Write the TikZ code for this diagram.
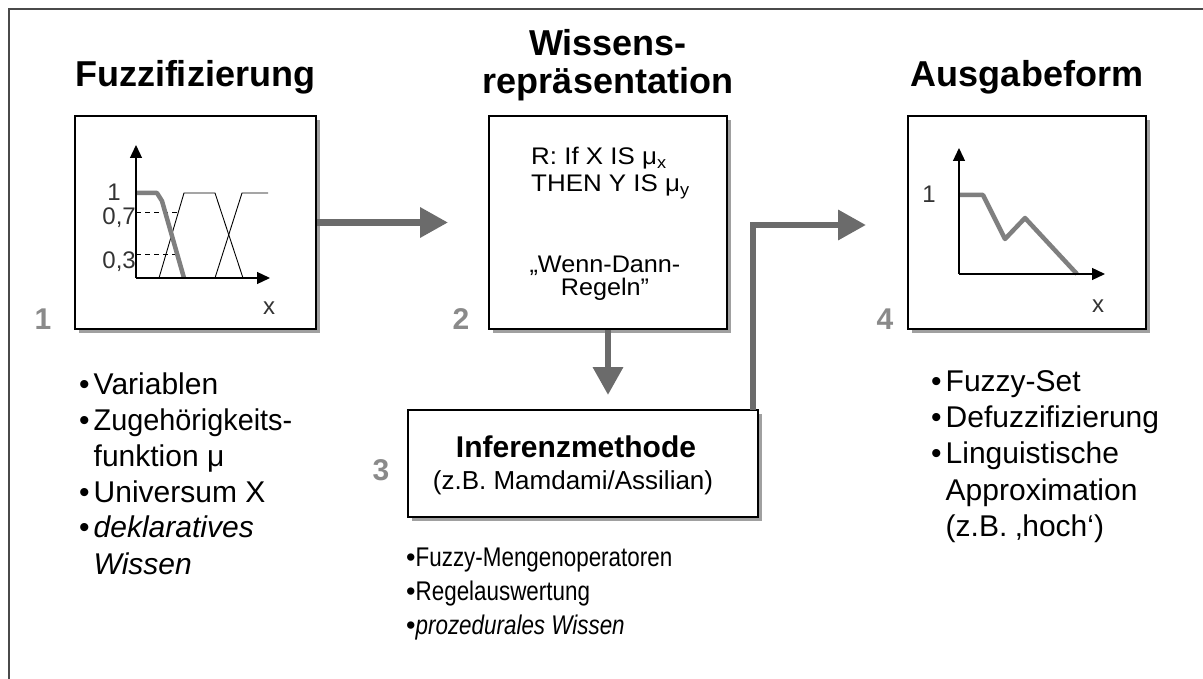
\documentclass[tikz,border=0pt]{standalone}
\usepackage{fontspec}
\usepackage{graphicx}
\setmainfont{Liberation Sans}
\usetikzlibrary{arrows.meta,shadows}
\definecolor{arrowgray}{HTML}{6B6B6B}
\definecolor{numgray}{HTML}{8A8A8A}
\definecolor{curvegray}{HTML}{7F7F7F}
\definecolor{shadowgray}{HTML}{A0A0A0}
\definecolor{framegray}{HTML}{4A4A4A}
\newcommand{\fsz}[2]{\fontsize{#1}{#2}\selectfont}
\newcommand{\wide}[1]{\scalebox{1.08}[1]{#1}}
\newcommand{\wider}[1]{\scalebox{1.05}[1]{#1}}
\newcommand{\narrow}[1]{\scalebox{0.83}[1]{#1}}
\begin{document}
\begin{tikzpicture}[x=1pt,y=-1pt,
  panel/.style={draw=black,line width=1.6pt,fill=white,inner sep=0pt,
     drop shadow={shadow xshift=4pt,shadow yshift=-4pt,opacity=1,fill=shadowgray}},
  flow/.style={draw=arrowgray,line width=6.5pt,-{Triangle[length=28pt,width=29pt]}},
  axis/.style={line width=1.3pt,-{Triangle[length=13pt,width=12pt]}},
  member/.style={line width=0.9pt},
  result/.style={line width=4.5pt,draw=curvegray,line join=round},
  guide/.style={line width=0.9pt,dash pattern=on 5pt off 4pt},
  title/.style={font=\bfseries\fsz{36}{37},anchor=base,inner sep=0pt},
  num/.style={font=\bfseries\fsz{30}{30},text=numgray,anchor=base,inner sep=0pt},
  lbl/.style={font=\fsz{24}{24},text=black!80,inner sep=0pt},
  listing/.style={anchor=base west,inner sep=0pt},
]
\useasboundingbox (0,0) rectangle (1203,679);
\fill[white] (0,0) rectangle (1203,679);
\draw[line width=2pt,framegray] (9,700) -- (9,9) -- (1220,9);

% titles
\node[title] (t1) at (195,87) {Fuzzifizierung};
\node[title] (t2a) at (608,56) {Wissens-};
\node[title] (t2b) at (608,94) {repräsentation};
\node[title] (t4) at (1027,87) {Ausgabeform};

% panels
\node[panel,minimum width=241pt,minimum height=213pt] (b1) at (195.5,222.5) {};
\node[panel,minimum width=238pt,minimum height=213pt] (b2) at (608,222.5) {};
\node[panel,minimum width=238pt,minimum height=213pt] (b4) at (1027,222.5) {};
\node[panel,minimum width=350pt,minimum height=107pt] (inf) at (583,463.5) {};

% numbers
\node[num] (n1) at (43,330) {1};
\node[num] (n2) at (461,330) {2};
\node[num] (n3) at (381,480) {3};
\node[num] (n4) at (885,330) {4};

% chart 1
\coordinate (o1) at (136,278);
\coordinate (y1) at (136,145);
\coordinate (x1) at (270,278);
\draw[guide] (136,212) -- (180,212);
\draw[guide] (136,254) -- (177,254);
\draw[member] (159,278) -- (184,193) -- (215,193) -- (243,278);
\draw[member] (215,278) -- (242,193) -- (268,193);
\draw[result] (136,193) -- (157,193) -- (162,201) -- (184,278);
\draw[axis] (o1) -- (y1);
\draw[axis] (o1) -- (x1);
\node[lbl,anchor=east] (l1a) at (121,192) {1};
\node[lbl,anchor=east] (l1b) at (136,218) {0,7};
\node[lbl,anchor=east] (l1c) at (136,262) {0,3};
\node[lbl] (l1x) at (269,308) {x};

% chart 4
\coordinate (o4) at (959,274);
\coordinate (y4) at (959,148);
\coordinate (x4) at (1105,274);
\draw[result] (959,195) -- (983,195) -- (1005,239) -- (1025,218) -- (1077,274);
\draw[axis] (o4) -- (y4);
\draw[axis] (o4) -- (x4);
\node[lbl] (l4a) at (929,194) {1};
\node[lbl] (l4x) at (1098,306) {x};

% panel 2 text (base = last line)
\node[listing,align=left,font=\fsz{24}{27}] (rule) at (531,192)
  {\wide{R: If X IS μ\textsubscript{x}}\\\wide{THEN Y IS μ\textsubscript{y}}};
\node[anchor=base,inner sep=0pt,align=center,font=\fsz{24}{23}] (wd) at (605,296)
  {\wider{„Wenn-Dann-}\\\wider{Regeln"}};

% inference text
\node[anchor=base,inner sep=0pt,font=\bfseries\fsz{30}{30}] (inft) at (576,457) {Inferenzmethode};
\node[anchor=base,inner sep=0pt,font=\fsz{26}{26}] (infs) at (573,489) {(z.B. Mamdami/Assilian)};

% connectors
\coordinate (a1tip) at (448,222.5);
\coordinate (a2tip) at (608,395);
\coordinate (a3start) at (753,410);
\coordinate (a3tip) at (866,225);
\draw[flow] (b1.east) -- (a1tip);
\draw[flow] (b2.south) -- (a2tip);
\draw[flow] (a3start) |- (a3tip);

% lists
\node[listing,font=\fsz{30}{36}] (listL) at (79,394)
  {\begin{tabular}[t]{@{}l@{\hspace{4pt}}l@{}}
   •&Variablen\\
   •&\scalebox{0.96}[1]{Zugehörigkeits-}\\
    &funktion μ\\
   •&Universum X\\
   •&\textit{deklaratives}\\
    &\textit{Wissen}
   \end{tabular}};
\node[listing,font=\fsz{30}{36.5}] (listR) at (931,391)
  {\begin{tabular}[t]{@{}l@{\hspace{4pt}}l@{}}
   •&Fuzzy-Set\\
   •&Defuzzifizierung\\
   •&Linguistische\\
    &Approximation\\
    &(z.B. ‚hoch‘)
   \end{tabular}};
\node[listing,font=\fsz{27}{34}] (listM) at (406,566)
  {\begin{tabular}[t]{@{}l@{}l@{}}
   •&\narrow{Fuzzy-Mengenoperatoren}\\
   •&\narrow{Regelauswertung}\\
   •&\narrow{\textit{prozedurales Wissen}}
   \end{tabular}};
\end{tikzpicture}
\end{document}
